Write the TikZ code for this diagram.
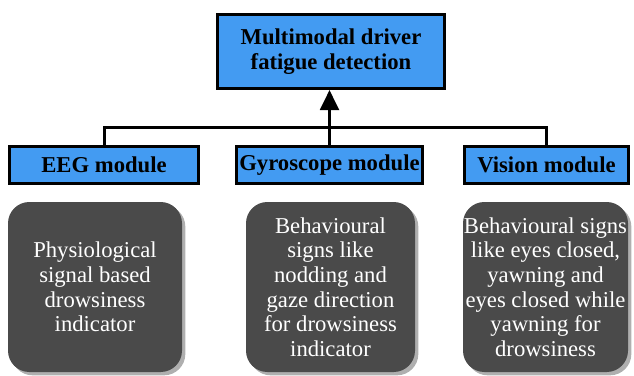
\documentclass[tikz,border=0pt]{standalone}
\usepackage{fontspec}
\setmainfont{Liberation Serif}
\usetikzlibrary{positioning,arrows.meta,shadows}
\definecolor{ModuleBlue}{RGB}{67,155,242}
\definecolor{InfoDark}{RGB}{74,74,74}
\definecolor{ShadowGray}{RGB}{175,175,175}
\tikzset{
  link/.style={line width=2.25pt,draw=black},
  uplink/.style={-{Triangle[length=15pt,width=14pt]},line width=2.25pt,draw=black},
  topbox/.style={draw=black,fill=ModuleBlue,line width=2.25pt,
    minimum width=170pt,minimum height=55.5pt,align=center,
    font=\fontsize{17}{18.75}\selectfont\bfseries},
  modbox/.style={draw=black,fill=ModuleBlue,line width=2.25pt,
    minimum height=27.75pt,align=center,inner sep=0pt,
    font=\fontsize{17}{18.75}\selectfont\bfseries},
  infobox/.style={fill=InfoDark,rounded corners=16pt,text=white,
    minimum height=127.5pt,align=center,inner sep=0pt,
    font=\fontsize{17}{18.5}\selectfont,
    drop shadow={shadow xshift=2.5pt,shadow yshift=-2.5pt,fill=ShadowGray,opacity=1}}
}
\begin{document}
\begin{tikzpicture}[x=0.75pt,y=-0.75pt]
  \useasboundingbox (0,0) rectangle (634,375);
  % root
  \node[topbox] (fatigue) at (331,51.5) {Multimodal driver\\fatigue detection};
  % modules
  \node[modbox,minimum width=141.75pt] (eeg) at (104,165) {EEG module};
  \node[modbox,minimum width=139.5pt] (gyro) at (329.5,165) {Gyroscope module};
  \node[modbox,minimum width=123pt] (vision) at (546.5,165) {Vision module};
  % descriptions
  \node[infobox,minimum width=130.5pt] (eegtext) at (95,287)
    {Physiological\\signal based\\drowsiness\\indicator};
  \node[infobox,minimum width=126.75pt] (gyrotext) at (330.5,287)
    {Behavioural\\signs like\\nodding and\\gaze direction\\for drowsiness\\indicator};
  \node[infobox,minimum width=123.75pt] (visiontext) at (545.5,287)
    {Behavioural signs\\like eyes closed,\\yawning and\\eyes closed while\\yawning for\\drowsiness};
  % connectors
  \coordinate (bus) at (330,127);
  \draw[link] (eeg.north) |- (bus) -| (vision.north);
  \draw[link] (gyro.north) -- (gyro.north |- bus);
  \draw[uplink] (gyro.north |- bus) -- (fatigue.south -| gyro.north);
\end{tikzpicture}
\end{document}
